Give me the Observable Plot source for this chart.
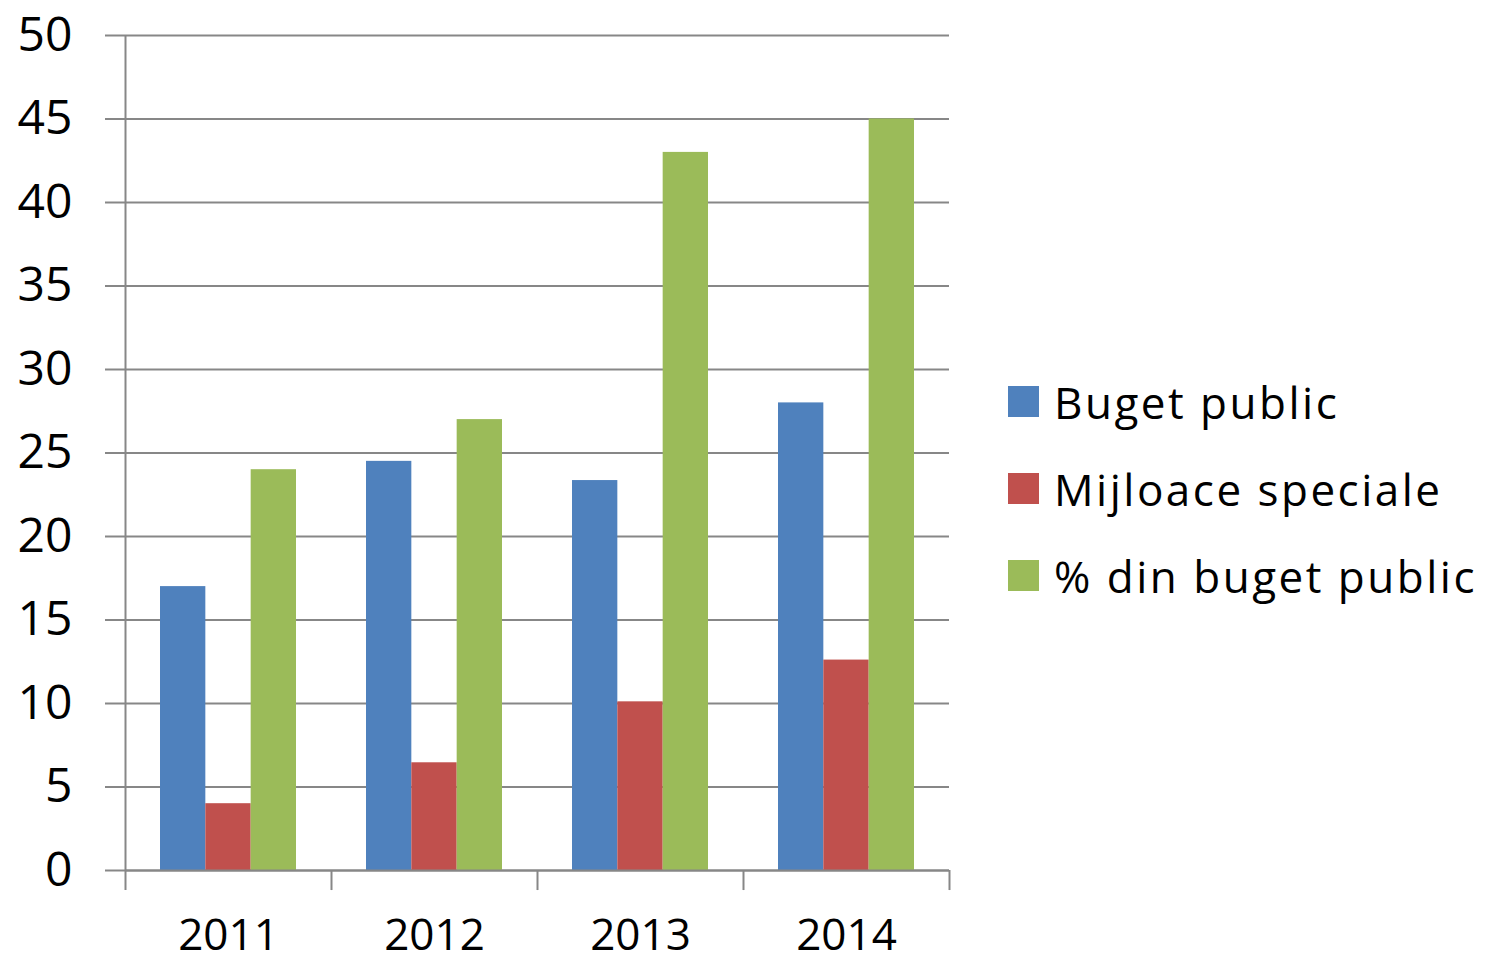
<!DOCTYPE html>
<html>
<head>
<meta charset="utf-8">
<script src="https://cdn.jsdelivr.net/npm/d3@7"></script>
<script src="https://cdn.jsdelivr.net/npm/@observablehq/plot@0.6"></script>
<style>
  html, body { margin: 0; padding: 0; background: #fff; }
  #wrap { position: relative; width: 1485px; height: 963px; overflow: hidden; font-family: 'Open Sans', sans-serif; }
  #legend { position: absolute; left: 1008px; top: 358px; }
  .item { display: flex; align-items: center; height: 87px; }
  .sw { width: 31px; height: 31px; margin-right: 15px; flex: none; }
  .lab { font-size: 44px; letter-spacing: 2.5px; line-height: 1; color: #000; white-space: nowrap; }
</style>
</head>
<body>
<div id="wrap"></div>
<script>
// ---- data ----
const years = ["2011", "2012", "2013", "2014"];
const seriesNames = ["Buget public", "Mijloace speciale", "% din buget public"];
const bugetPublic = [17, 24.5, 23.35, 28];
const mijloaceSpeciale = [4, 6.45, 10.1, 12.6];
const procentBugetPublic = [24, 27, 43, 45];
const yTicks = [0, 5, 10, 15, 20, 25, 30, 35, 40, 45, 50];
const seriesColors = ["#4F81BD", "#C0504D", "#9BBB59"];

const seriesValues = [bugetPublic, mijloaceSpeciale, procentBugetPublic];
const tidy = seriesValues.map(vals => years.map((y, i) => ({year: y, value: vals[i]})));

// layout constants (band = 206px, group = 136px centred)
const band = 206, side = 35, barW = (band - 2 * side) / 3;
const gridColor = "#878787";

const barMarks = tidy.map((rows, k) => Plot.barY(rows, {
  x: "year", y: "value", fill: seriesColors[k],
  insetLeft: side + k * barW,
  insetRight: band - side - (k + 1) * barW
}));

const chart = Plot.plot({
  width: 1485, height: 963,
  marginLeft: 125, marginRight: 536, marginTop: 35, marginBottom: 93,
  style: {fontFamily: "'Open Sans', sans-serif", color: "#000", background: "#fff"},
  x: {domain: years, type: "band", padding: 0},
  y: {domain: [0, 50]},
  marks: [
    Plot.gridY(yTicks, {stroke: gridColor, strokeOpacity: 1, strokeWidth: 2}),
    ...barMarks,
    Plot.ruleY([0], {stroke: gridColor, strokeWidth: 2}),
    Plot.axisY(yTicks, {tickSize: 20, tickPadding: 33, stroke: gridColor, strokeWidth: 2, fill: "#000", fontSize: 48, label: null}),
    Plot.axisX(years, {tickSize: 0, tickPadding: 48, fill: "#000", fontSize: 44, label: null}),
    Plot.ruleX([years[0]], {x: d => d, y1: -1.2, y2: 50, dx: -band / 2, stroke: gridColor, strokeWidth: 2}),
    Plot.ruleX(years.slice(1), {x: d => d, y1: -1.2, y2: 0, dx: -band / 2, stroke: gridColor, strokeWidth: 2}),
    Plot.ruleX([years[years.length - 1]], {x: d => d, y1: -1.2, y2: 0, dx: band / 2, stroke: gridColor, strokeWidth: 2})
  ]
});

const wrap = document.getElementById("wrap");
wrap.appendChild(chart);

const legend = document.createElement("div");
legend.id = "legend";
seriesNames.forEach((name, k) => {
  const item = document.createElement("div");
  item.className = "item";
  const sw = document.createElement("div");
  sw.className = "sw";
  sw.style.background = seriesColors[k];
  const lab = document.createElement("div");
  lab.className = "lab";
  lab.textContent = name;
  item.appendChild(sw);
  item.appendChild(lab);
  legend.appendChild(item);
});
wrap.appendChild(legend);
</script>
</body>
</html>
